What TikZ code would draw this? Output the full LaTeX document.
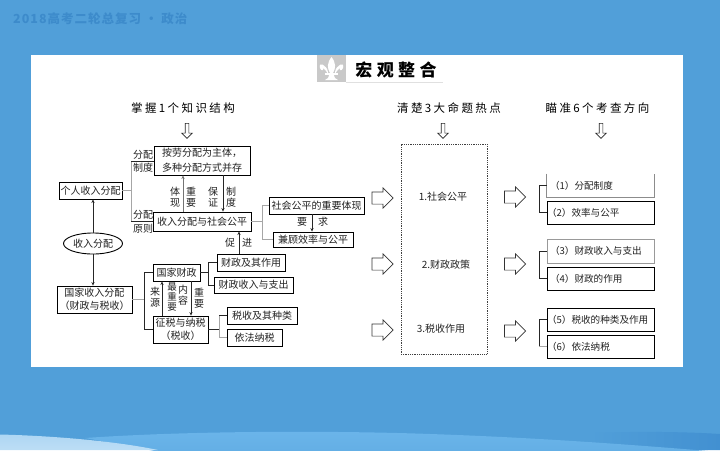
\documentclass[tikz,border=0pt]{standalone}
\usepackage{fontspec}
\setmainfont{Noto Sans CJK SC}
\newfontfamily\hdfont[LetterSpace=21]{Noto Sans CJK SC}
\newfontfamily\ttlfont[LetterSpace=8]{Noto Sans CJK SC}
\newfontfamily\bigfont[LetterSpace=26]{Noto Sans CJK SC}
\usetikzlibrary{arrows.meta,shapes.geometric,shapes.arrows}
\definecolor{bgblue}{HTML}{519FD9}
\definecolor{midblue}{HTML}{6BB5EA}
\definecolor{darkblue}{HTML}{4290D1}
\definecolor{titleblue}{HTML}{3D8BCB}
\definecolor{ink}{HTML}{222222}
\definecolor{graylogo}{HTML}{C9C9C9}
\newcommand{\rtext}[2][0pt]{\makebox[107pt][l]{\hspace{#1}#2}}
\tikzset{
  x=1pt,y=-1pt,
  box/.style={draw=black,line width=.9pt,fill=white,inner sep=0pt,text=ink,align=center,font=\fontsize{10}{13.2}\selectfont},
  rbox/.style={box,font=\fontsize{9.6}{12}\selectfont},
  ctext/.style={inner sep=0pt,text=ink,font=\fontsize{10}{12}\selectfont},
  lab/.style={inner sep=0pt,text=ink,align=center,font=\fontsize{10}{11}\selectfont},
  head/.style={inner sep=0pt,text=black,font=\hdfont\fontsize{11.5}{13}\selectfont},
  conn/.style={draw=black!85,line width=.8pt},
  soft/.style={draw=black!35,line width=.8pt},
  arr/.style={conn,-{Stealth[length=3.5pt,width=3.2pt]}},
  open/.style={single arrow,draw=black!80,fill=white,line width=.7pt,inner sep=0pt,minimum height=21pt,single arrow head extend=4pt,single arrow head indent=0pt},
  down/.style={single arrow,draw=black!85,line width=.6pt,inner sep=0pt,minimum height=15pt,single arrow head extend=3.5pt,shape border rotate=270}
}
\newcommand{\openfill}{\rule{0pt}{11.5pt}}
\newcommand{\downfill}{\rule{3pt}{0pt}}
\begin{document}
\begin{tikzpicture}
\useasboundingbox (0,0) rectangle (720,450);
\fill[bgblue] (0,0) rectangle (720,450);
\begin{scope}
\clip (0,0) rectangle (720,450);
\shade[left color=bgblue,right color=darkblue] (590,433) .. controls (640,431) and (690,432) .. (720,434) -- (720,450) -- (590,450) -- cycle;
\shade[top color=midblue,bottom color=midblue!70!bgblue] (85,438) .. controls (200,430) and (350,431) .. (430,434) .. controls (550,438) and (660,447) .. (720,452) -- (160,452) -- cycle;
\shade[top color=midblue!55!white,bottom color=midblue!45!white] (0,434.5) .. controls (60,436) and (120,442) .. (158,450) -- (0,450) -- cycle;
\end{scope}
\node[inner sep=0pt,anchor=west,text=titleblue,font=\ttlfont\bfseries\fontsize{12.5}{14}\selectfont] (title) at (13,19) {2018高考二轮总复习 · 政治};
\fill[white] (31,55) rectangle (683,367);

% logo
\fill[graylogo] (317,55) rectangle (346,82);
\fill[white] (331.5,57) .. controls (327,63) and (327,68) .. (330,73) -- (333,73) .. controls (336,68) and (336,63) .. (331.5,57) -- cycle;
\fill[white] (328,72) .. controls (327,65) and (318,61) .. (320,68) .. controls (321,71) and (324,71) .. (323,68) .. controls (325,69) and (326,71) .. (328,74) -- cycle;
\fill[white] (335,72) .. controls (336,65) and (345,61) .. (343,68) .. controls (342,71) and (339,71) .. (340,68) .. controls (338,69) and (337,71) .. (335,74) -- cycle;
\fill[white] (325,72.5) rectangle (338,74.5);
\fill[white] (329,74.5) .. controls (329,78) and (327,79) .. (325,80) -- (338,80) .. controls (336,79) and (334,78) .. (334,74.5) -- cycle;
\draw[black!12,line width=.6pt] (346,82) -- (443,82);
\node[inner sep=0pt,text=black,font=\bigfont\bfseries\fontsize{17}{19}\selectfont] (bigttl) at (396,70) {宏观整合};

% headings
\node[head] (h1) at (183,108) {掌握1个知识结构};
\node[head] (h2) at (449,108) {清楚3大命题热点};
\node[head] (h3) at (597.5,108) {瞄准6个考查方向};
\node[down] (d1) at (187,130) {\downfill};
\node[down] (d2) at (443,130) {\downfill};
\node[down] (d3) at (601,130) {\downfill};

% left graph boxes
\node[box,minimum width=63pt,minimum height=17pt] (ind) at (90.5,190.5) {个人收入分配};
\node[box,ellipse,minimum width=59pt,minimum height=21pt] (inc) at (93,243.5) {收入分配};
\node[box,minimum width=75pt,minimum height=27pt] (nat) at (94.5,299.5) {国家收入分配\\（财政与税收）};
\node[box,minimum width=96pt,minimum height=29pt] (lab) at (202,160.5) {按劳分配为主体，\\[1.5pt]多种分配方式并存};
\node[box,minimum width=98pt,minimum height=19pt] (fair) at (202,221.5) {收入分配与社会公平};
\node[box,minimum width=95pt,minimum height=17pt] (emb) at (316.5,205.5) {社会公平的重要体现};
\node[box,minimum width=80pt,minimum height=15pt] (eff) at (313,239.5) {兼顾效率与公平};
\node[box,minimum width=47pt,minimum height=17pt] (fin) at (176.5,272.5) {国家财政};
\node[box,minimum width=68pt,minimum height=17pt] (fina) at (251,262.5) {财政及其作用};
\node[box,minimum width=79pt,minimum height=16pt] (finb) at (253.5,285) {财政收入与支出};
\node[box,minimum width=55pt,minimum height=27pt] (tax) at (180.5,329.5) {征税与纳税\\（税收）};
\node[box,minimum width=70pt,minimum height=17pt] (taxa) at (262,315.5) {税收及其种类};
\node[box,minimum width=55pt,minimum height=17pt] (taxb) at (254.5,337.5) {依法纳税};

% junction coordinates
\coordinate (j1) at (131,190.5);
\coordinate (j1t) at (131,161);
\coordinate (j1b) at (131,221.5);
\coordinate (j2) at (262,221.5);
\coordinate (j3) at (208,272.5);
\coordinate (j3t) at (208,262.5);
\coordinate (j3b) at (208,285);
\coordinate (j4) at (144,299.5);
\coordinate (j4t) at (144,272.5);
\coordinate (j4b) at (144,329.5);
\coordinate (j5) at (219,329.5);
\coordinate (j5t) at (219,315.5);
\coordinate (j5b) at (219,337.5);
\coordinate (v1) at (183,0);
\coordinate (v2) at (223,0);
\coordinate (v3) at (312,0);
\coordinate (v4) at (239,0);
\coordinate (v5) at (162,0);
\coordinate (v6) at (191,0);

% connectors
\draw[soft] (ind.east) -- (j1);
\draw[soft] (j1t) -- (j1b);
\draw[conn] (j1t) -- (lab.west |- j1t);
\draw[conn] (j1b) -- (fair.west);
\draw[arr] (inc.north) -- (ind.south -| inc.north);
\draw[arr] (inc.south) -- (nat.north -| inc.south);
\draw[arr,draw=black!55] (fair.north -| v1) -- (lab.south -| v1);
\draw[arr] (lab.south -| v2) -- (fair.north -| v2);
\draw[soft] (fair.east) -- (j2);
\draw[soft] (j2 |- emb.west) -- (j2 |- eff.west);
\draw[soft] (j2 |- emb.west) -- (emb.west);
\draw[soft] (j2 |- eff.west) -- (eff.west);
\draw[arr] (emb.south -| v3) -- (eff.north -| v3);
\draw[arr] (fina.north -| v4) -- (fair.south -| v4);
\draw[conn] (fin.east) -- (j3);
\draw[conn] (j3t) -- (j3b);
\draw[conn] (j3t) -- (fina.west);
\draw[conn] (j3b) -- (finb.west);
\draw[soft] (nat.east) -- (j4);
\draw[conn] (j4t) -- (j4b);
\draw[conn] (j4t) -- (fin.west);
\draw[conn] (j4b) -- (tax.west);
\draw[arr] (tax.north -| v5) -- (fin.south -| v5);
\draw[arr] (fin.south -| v6) -- (tax.north -| v6);
\draw[conn] (tax.east) -- (j5);
\draw[soft] (j5t) -- (j5b);
\draw[conn] (j5t) -- (taxa.west);
\draw[soft] (j5b) -- (taxb.west);

% labels on connectors
\node[lab] (l1) at (143,155) {分配};
\node[lab] (l2) at (143,168) {制度};
\node[lab] (l3) at (143,215) {分配};
\node[lab] (l4) at (143,229) {原则};
\node[lab] (l5) at (175,197.5) {体\\现};
\node[lab] (l6) at (191,197.5) {重\\要};
\node[lab] (l7) at (213,197.5) {保\\证};
\node[lab] (l8) at (231,197.5) {制\\度};
\node[lab] (l9) at (302,222) {要};
\node[lab] (l10) at (323,222) {求};
\node[lab] (l11) at (230,243) {促};
\node[lab] (l12) at (247,243) {进};
\node[lab] (l13) at (155,297) {来\\源};
\node[lab,font=\fontsize{9.5}{10}\selectfont] (l14) at (172,297) {最\\重\\要};
\node[lab] (l15) at (183,295) {内\\容};
\node[lab] (l16) at (199,298) {重\\要};

% centre column
\node[draw=black!75,densely dotted,line width=.8pt,minimum width=86pt,minimum height=210pt,inner sep=0pt] (col) at (444,249) {};
\node[ctext] (t1) at (443,197) {1.社会公平};
\node[ctext] (t2) at (446,265) {2.财政政策};
\node[ctext] (t3) at (441,329) {3.税收作用};
\node[open] (a1) at (379.5,198) {\openfill};
\node[open] (a2) at (379.5,264) {\openfill};
\node[open] (a3) at (379.5,330) {\openfill};
\node[open] (b1) at (512,197) {\openfill};
\node[open] (b2) at (512,264) {\openfill};
\node[open] (b3) at (512,331) {\openfill};

% right column
\node[rbox,draw=none,fill=none,minimum width=105pt,minimum height=23pt] (r1) at (600.5,185.5) {\rtext[3pt]{（1）分配制度}};
\draw[draw=black!45,line width=.9pt] (r1.north west) -- (r1.south west) -- (r1.south east) -- (r1.north east);
\node[rbox,minimum width=105pt,minimum height=23pt] (r2) at (600.5,212.5) {\rtext{（2）效率与公平}};
\node[rbox,draw=black!40,minimum width=105pt,minimum height=24pt] (r3) at (600.5,251) {\rtext[3pt]{（3）财政收入与支出}};
\node[rbox,minimum width=105pt,minimum height=23pt] (r4) at (600.5,278.5) {\rtext[3pt]{（4）财政的作用}};
\node[rbox,minimum width=105pt,minimum height=23pt] (r5) at (600.5,319.5) {\rtext{（5）税收的种类及作用}};
\node[rbox,minimum width=105pt,minimum height=23pt] (r6) at (600.5,346.5) {\rtext{（6）依法纳税}};
\coordinate (k) at (539,0);
\draw[conn] (r1.west) -- (r1.west -| k) -- (r2.west -| k) -- (r2.west);
\draw[conn] (r3.west) -- (r3.west -| k) -- (r4.west -| k) -- (r4.west);
\draw[conn] (r5.west) -- (r5.west -| k) -- (r6.west -| k);
\draw[soft] (r6.west -| k) -- (r6.west);
\end{tikzpicture}
\end{document}
